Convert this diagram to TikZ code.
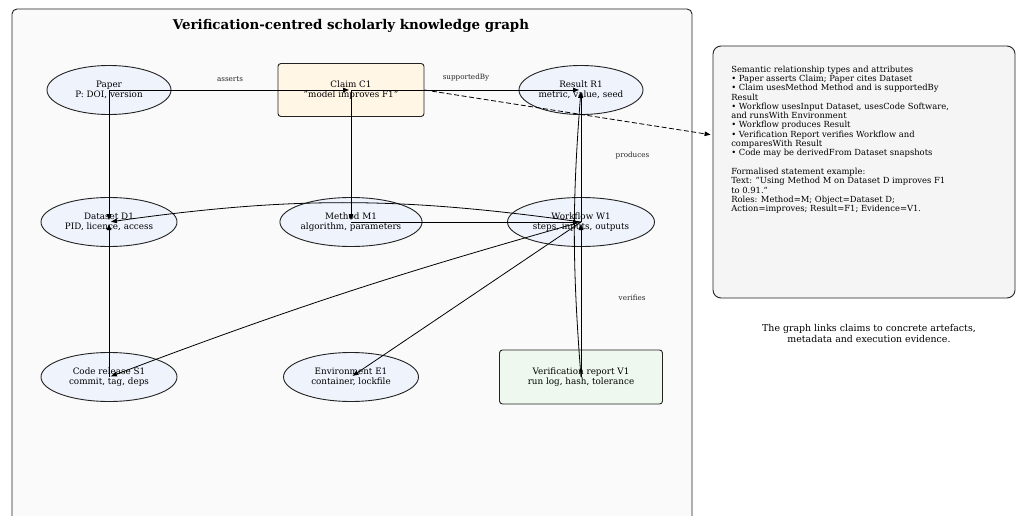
\documentclass[tikz,border=0pt]{standalone}
\usepackage{fontspec}
\setmainfont{DejaVu Serif}
\usetikzlibrary{shapes.geometric,arrows.meta,positioning}
\definecolor{kgframe}{HTML}{FAFAFA}
\definecolor{kgnode}{HTML}{EEF3FC}
\definecolor{kgclaim}{HTML}{FFF6E6}
\definecolor{kgreport}{HTML}{EEF8EE}
\definecolor{kgpanel}{HTML}{F5F5F5}
\definecolor{kgedge}{HTML}{222222}

\tikzset{
  entity/.style={ellipse,draw=kgedge,line width=0.9pt,fill=kgnode,inner sep=0pt,
                 minimum width=#1,minimum height=49pt,align=center,
                 font=\fontsize{8.8}{10.5}\selectfont},
  entity/.default=136pt,
  artefact/.style={draw=kgedge,line width=0.9pt,rounded corners=3pt,inner sep=0pt,
                   align=center,font=\fontsize{8.8}{10.5}\selectfont},
  rel/.style={-{Triangle[length=6pt,width=4.5pt]},draw=black,line width=0.8pt,shorten >=2pt},
  rellabel/.style={font=\fontsize{7.2}{8.5}\selectfont,text=black!85}
}

\begin{document}
\begin{tikzpicture}[x=1pt,y=-1pt]
    \useasboundingbox (0,0) rectangle (1020,516);
    % graph area, runs past the lower edge
    \draw[rounded corners=5pt,fill=kgframe,draw=kgedge,line width=0.9pt] (12,9) rectangle (692,540);
    \node[font=\bfseries\fontsize{13.4}{16}\selectfont] (title) at (351,26)
      {Verification-centred scholarly knowledge graph};

    % artefacts
    \node[entity=124pt] (paper) at (109,90) {Paper\\P: DOI, version};
    \node[artefact,fill=kgclaim,minimum width=146pt,minimum height=53pt] (claim) at (351,90)
      {Claim C1\\"model improves F1"};
    \node[entity=124pt] (result) at (581,90) {Result R1\\metric, value, seed};
    \node[entity=136pt] (dataset) at (109,222) {Dataset D1\\PID, licence, access};
    \node[entity=140pt] (method) at (351,222) {Method M1\\algorithm, parameters};
    \node[entity=147pt] (workflow) at (581,222) {Workflow W1\\steps, inputs, outputs};
    \node[entity=136pt] (code) at (109,377) {Code release S1\\commit, tag, deps};
    \node[entity=135pt] (env) at (351,377) {Environment E1\\container, lockfile};
    \node[artefact,fill=kgreport,minimum width=163pt,minimum height=54pt] (report) at (581,377)
      {Verification report V1\\run log, hash, tolerance};

    % side notes
    \node[draw=kgedge,line width=0.9pt,fill=kgpanel,rounded corners=8pt,
          minimum width=302pt,minimum height=252pt] (notes) at (864,172) {};
    \node[below right=20pt and 18.5pt of notes.north west,inner sep=0pt,align=left,
          font=\fontsize{8.4}{9.3}\selectfont] (notesbody)
      {Semantic relationship types and attributes\\
       • Paper asserts Claim; Paper cites Dataset\\
       • Claim usesMethod Method and is supportedBy\\
       Result\\
       • Workflow usesInput Dataset, usesCode Software,\\
       and runsWith Environment\\
       • Workflow produces Result\\
       • Verification Report verifies Workflow and\\
       comparesWith Result\\
       • Code may be derivedFrom Dataset snapshots\\[9.3pt]
       Formalised statement example:\\
       Text: "Using Method M on Dataset D improves F1\\
       to 0.91."\\
       Roles: Method=M; Object=Dataset D;\\
       Action=improves; Result=F1; Evidence=V1.};
    \node[align=center,font=\fontsize{9.4}{11}\selectfont] (caption) at (869,333.5)
      {The graph links claims to concrete artefacts,\\metadata and execution evidence.};
    \coordinate (notesin) at (notes.west |- 0,135);

    % relations
    \draw[rel] (paper.center) -- (claim.center) node[midway,above=5pt,rellabel] {asserts};
    \draw[rel] (claim.center) -- (result.center) node[midway,above=5pt,rellabel] {supportedBy};
    \draw[rel] (paper.center) -- (dataset.center);
    \draw[rel] (claim.center) -- (method.center);
    \draw[rel] (method.center) -- (workflow.center);
    \draw[rel] (workflow.center) to[bend right=8] (dataset.center);
    \draw[rel] (workflow.center) to[bend right=2.5] (code.center);
    \draw[rel] (workflow.center) -- (env.center);
    \draw[rel] (workflow.center) -- (result.center) node[midway,right=31pt,rellabel] {produces};
    \draw[rel] (report.center) -- (workflow.center) node[midway,right=34pt,yshift=2pt,rellabel] {verifies};
    \draw[rel] (report.center) to[bend left=4.5] (result.center);
    \draw[rel] (code.center) -- (dataset.center);
    \draw[rel,dash pattern=on 5pt off 2.5pt] (claim.east) -- (notesin);
\end{tikzpicture}
\end{document}
